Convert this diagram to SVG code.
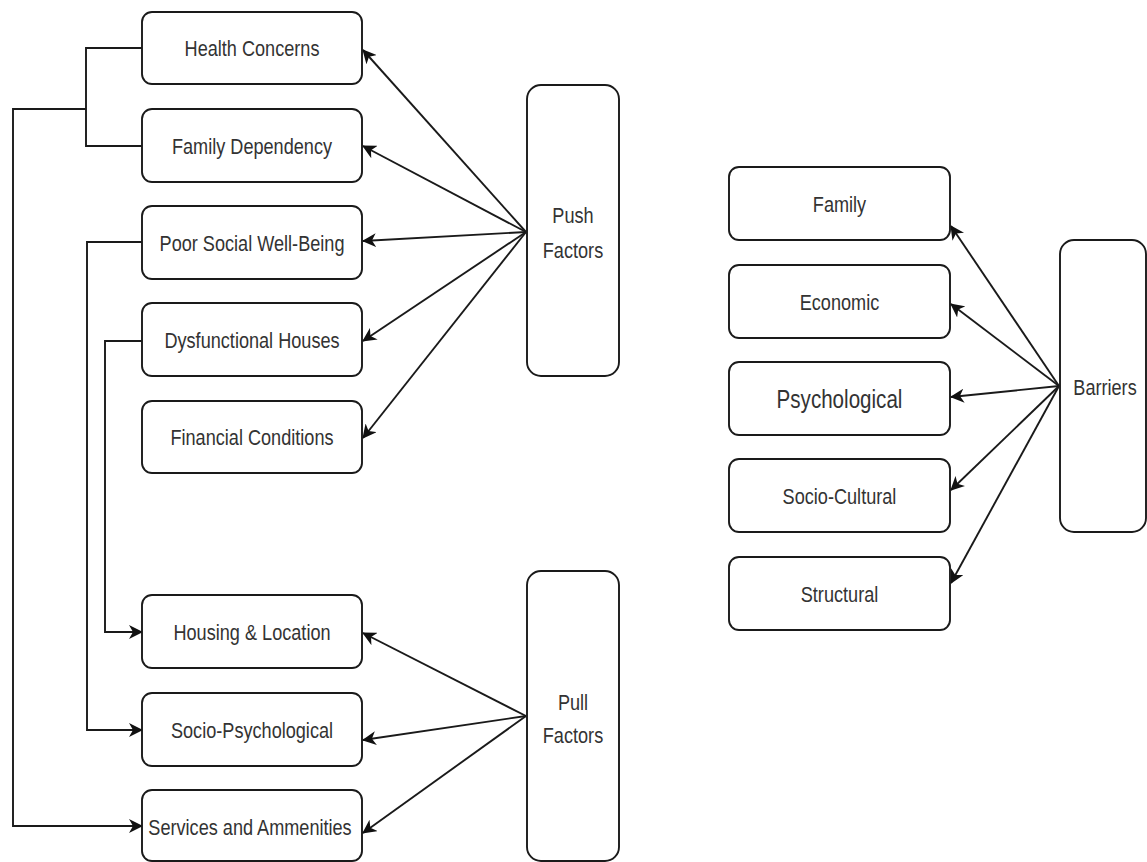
<svg xmlns="http://www.w3.org/2000/svg" width="1147" height="862" viewBox="0 0 1147 862">
<style>
.box{fill:#fff;stroke:#1a1a1a;stroke-width:1.9}
.lbl{font-family:"Liberation Sans",Arial,sans-serif;font-size:22px;fill:#333;text-anchor:middle}
.big{font-size:25px}
.con{fill:none;stroke:#1a1a1a;stroke-width:1.9}
.arr{marker-end:url(#ah)}
</style>
<defs>
<marker id="ah" viewBox="0 0 14 14" refX="13" refY="7" markerWidth="14" markerHeight="14" markerUnits="userSpaceOnUse" orient="auto">
<path d="M0,0 L14,7 L0,14 L4,7 Z" fill="#111"/>
</marker>
</defs>
<rect width="1147" height="862" fill="#fff"/>

<g id="connectors">
<path class="con" d="M142,48 H86 V146 H142"/>
<path class="con arr" d="M86,109 H13 V826 H142"/>
<path class="con arr" d="M142,242 H87 V730 H142"/>
<path class="con arr" d="M142,341 H105 V632 H142"/>
<line class="con arr" x1="526" y1="232" x2="363" y2="50"/>
<line class="con arr" x1="526" y1="232" x2="363" y2="146"/>
<line class="con arr" x1="526" y1="232" x2="363" y2="241"/>
<line class="con arr" x1="526" y1="232" x2="363" y2="341"/>
<line class="con arr" x1="526" y1="232" x2="363" y2="438"/>
<line class="con arr" x1="526" y1="716" x2="363" y2="633"/>
<line class="con arr" x1="526" y1="716" x2="363" y2="740"/>
<line class="con arr" x1="526" y1="716" x2="363" y2="833"/>
<line class="con arr" x1="1059" y1="386" x2="951" y2="226"/>
<line class="con arr" x1="1059" y1="386" x2="951" y2="304"/>
<line class="con arr" x1="1059" y1="386" x2="951" y2="397"/>
<line class="con arr" x1="1059" y1="386" x2="951" y2="490"/>
<line class="con arr" x1="1059" y1="386" x2="951" y2="583"/>
</g>

<g id="health"><rect class="box" x="142" y="12" width="220" height="72" rx="10"/><text class="lbl" transform="translate(252,56) scale(0.824,1)">Health Concerns</text></g>
<g id="familydep"><rect class="box" x="142" y="109" width="220" height="73" rx="10"/><text class="lbl" transform="translate(252,153.5) scale(0.824,1)">Family Dependency</text></g>
<g id="poorsocial"><rect class="box" x="142" y="206" width="220" height="73" rx="10"/><text class="lbl" transform="translate(252,250.5) scale(0.824,1)">Poor Social Well-Being</text></g>
<g id="dysfunctional"><rect class="box" x="142" y="303" width="220" height="73" rx="10"/><text class="lbl" transform="translate(252,347.5) scale(0.824,1)">Dysfunctional Houses</text></g>
<g id="financial"><rect class="box" x="142" y="401" width="220" height="72" rx="10"/><text class="lbl" transform="translate(252,445) scale(0.824,1)">Financial Conditions</text></g>
<g id="housing"><rect class="box" x="142" y="595" width="220" height="73" rx="10"/><text class="lbl" transform="translate(252,639.5) scale(0.824,1)">Housing &amp; Location</text></g>
<g id="sociopsych"><rect class="box" x="142" y="693" width="220" height="73" rx="10"/><text class="lbl" transform="translate(252,737.5) scale(0.824,1)">Socio-Psychological</text></g>
<g id="services"><rect class="box" x="142" y="790" width="220" height="71" rx="10"/><text class="lbl" transform="translate(250,834.5) scale(0.824,1)">Services and Ammenities</text></g>

<g id="push"><rect class="box" x="527" y="85" width="92" height="291" rx="14"/><text class="lbl" transform="translate(573,223) scale(0.824,1)">Push</text><text class="lbl" transform="translate(573,258) scale(0.824,1)">Factors</text></g>
<g id="pull"><rect class="box" x="527" y="571" width="92" height="290" rx="14"/><text class="lbl" transform="translate(573,709.5) scale(0.824,1)">Pull</text><text class="lbl" transform="translate(573,743) scale(0.824,1)">Factors</text></g>

<g id="family"><rect class="box" x="729" y="167" width="221" height="73" rx="10"/><text class="lbl" transform="translate(839.5,211.5) scale(0.824,1)">Family</text></g>
<g id="economic"><rect class="box" x="729" y="265" width="221" height="73" rx="10"/><text class="lbl" transform="translate(839.5,309.5) scale(0.824,1)">Economic</text></g>
<g id="psychological"><rect class="box" x="729" y="362" width="221" height="73" rx="10"/><text class="lbl big" transform="translate(839.5,407.5) scale(0.824,1)">Psychological</text></g>
<g id="sociocultural"><rect class="box" x="729" y="459" width="221" height="73" rx="10"/><text class="lbl" transform="translate(839.5,503.5) scale(0.824,1)">Socio-Cultural</text></g>
<g id="structural"><rect class="box" x="729" y="557" width="221" height="73" rx="10"/><text class="lbl" transform="translate(839.5,601.5) scale(0.824,1)">Structural</text></g>
<g id="barriers"><rect class="box" x="1060" y="240" width="86" height="292" rx="14"/><text class="lbl" transform="translate(1105,395) scale(0.824,1)">Barriers</text></g>
</svg>
